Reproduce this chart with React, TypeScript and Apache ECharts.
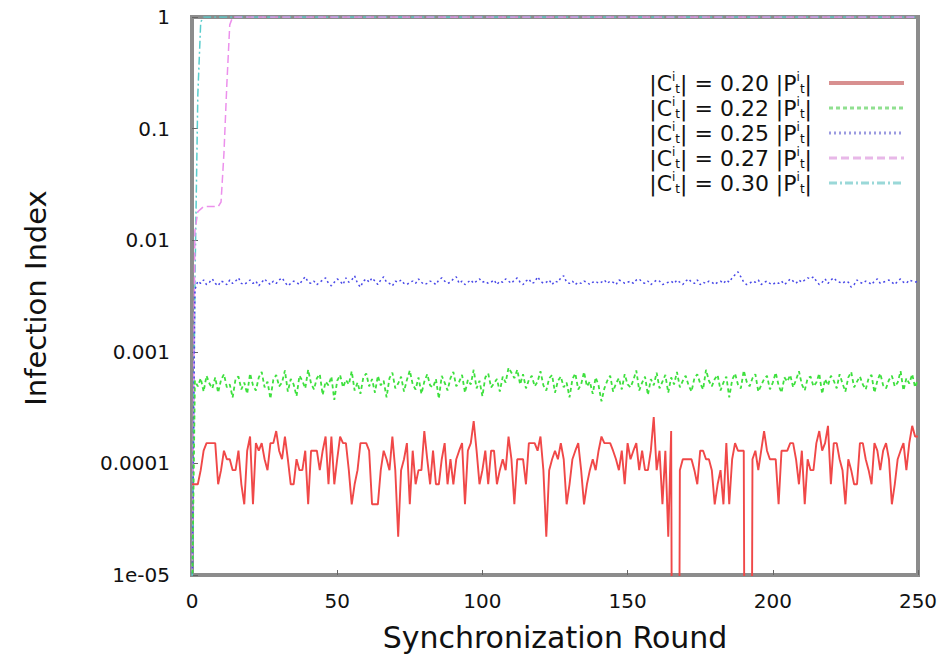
import React, { useEffect, useRef } from "react";
import * as echarts from "echarts";

// Synchronization rounds 0..250
const rounds: number[] = [];
for (let r = 0; r <= 250; r++) rounds.push(r);

const legendRatios = ["0.20", "0.22", "0.25", "0.27", "0.30"];
const yTickLabels = ["1e-05", "0.0001", "0.001", "0.01", "0.1", "1"];
const xTicks = [0, 50, 100, 150, 200, 250];

// |C| = 0.20 |P|, values in units of 1e-5 (0 = no infection)
const redE5 = [
  6.5, 6.5, 6.5, 8.7, 13, 15.2, 15.2, 15.2, 15.2, 6.5,
  8.7, 13, 10.9, 10.9, 8.7, 8.7, 13, 6.5, 4.3, 13,
  17.4, 4.3, 15.2, 13, 15.2, 10.9, 8.7, 15.2, 15.2, 19.5,
  13, 10.9, 17.4, 10.9, 6.5, 6.5, 10.9, 8.7, 8.7, 13,
  4.3, 13, 13, 13, 8.7, 13, 17.4, 6.5, 17.4, 6.5,
  10.9, 17.4, 15.2, 15.2, 8.7, 4.3, 6.5, 8.7, 15.2, 15.2,
  15.2, 13, 4.3, 4.3, 4.3, 8.7, 13, 10.9, 8.7, 17.4,
  8.7, 2.2, 8.7, 10.9, 15.2, 4.3, 13, 6.5, 8.7, 8.7,
  19.5, 10.9, 6.5, 13, 6.5, 6.5, 10.9, 15.2, 6.5, 10.9,
  6.5, 10.9, 13, 15.2, 4.3, 13, 15.2, 23.9, 13, 6.5,
  8.7, 13, 6.5, 13, 13, 6.5, 8.7, 10.9, 8.7, 17.4,
  10.9, 4.3, 10.9, 10.9, 10.9, 6.5, 15.2, 15.2, 15.2, 13,
  17.4, 8.7, 2.2, 8.7, 10.9, 13, 10.9, 15.2, 10.9, 4.3,
  6.5, 10.9, 13, 15.2, 8.7, 4.3, 6.5, 8.7, 10.9, 8.7,
  13, 17.4, 15.2, 15.2, 15.2, 13, 10.9, 8.7, 13, 6.5,
  15.2, 10.9, 13, 15.2, 8.7, 13, 8.7, 8.7, 13, 26,
  8.7, 13, 4.3, 13, 2.2, 19.5, 0, 0, 8.7, 10.9,
  10.9, 10.9, 10.9, 8.7, 6.5, 13, 13, 10.9, 10.9, 8.7,
  4.3, 6.5, 8.7, 4.3, 15.2, 4.3, 10.9, 15.2, 13, 13,
  13, 0, 0, 10.9, 13, 8.7, 13, 19.5, 13, 10.9,
  10.9, 10.9, 4.3, 13, 13, 13, 15.2, 15.2, 10.9, 6.5,
  13, 4.3, 10.9, 8.7, 8.7, 15.2, 19.5, 13, 15.2, 21.7,
  6.5, 15.2, 15.2, 10.9, 8.7, 4.3, 10.9, 8.7, 6.5, 6.5,
  15.2, 15.2, 10.9, 8.7, 6.5, 15.2, 13, 8.7, 13, 15.2,
  10.9, 4.3, 6.5, 10.9, 13, 15.2, 8.7, 15.2, 21.7, 17.4,
  17.4,
];

// |C| = 0.22 |P|, values in units of 1e-4
const greenE4 = [
  0.05,
  5.5, 4.9, 5.8, 4.4, 6.1, 5.2, 4.7, 5.9, 4.3, 5.6,
  6.3, 4.8, 5.1, 3.9, 5.7, 6.0, 4.6, 5.3, 4.2, 6.4,
  5.0, 4.5, 5.9, 6.6, 4.8, 5.4, 3.8, 5.6, 6.2, 4.9,
  5.3, 6.8, 4.4, 5.7, 5.1, 4.0, 6.1, 5.5, 4.7, 6.9,
  5.2, 4.6, 5.8, 6.3, 4.1, 5.4, 5.0, 6.0, 3.7, 5.5,
  6.2, 4.8, 5.6, 5.1, 6.7, 4.5, 5.3, 4.2, 5.9, 6.4,
  4.9, 5.7, 4.3, 6.1, 5.0, 5.5, 3.9, 5.8, 6.5, 4.7,
  5.2, 6.0, 4.4, 5.6, 6.8, 5.1, 4.6, 5.9, 4.2, 5.4,
  6.3, 5.0, 4.8, 5.7, 3.8, 6.1, 5.3, 4.5, 5.8, 6.6,
  4.9, 5.4, 6.2, 4.3, 5.6, 5.1, 6.9, 4.7, 5.5, 4.0,
  5.9, 6.4, 4.8, 5.2, 5.7, 4.4, 6.0, 5.3, 7.2, 6.5,
  5.8, 6.9, 5.1, 6.3, 4.7, 5.6, 6.1, 4.9, 5.4, 6.7,
  5.0, 4.5, 5.8, 6.2, 4.3, 5.5, 6.0, 4.8, 5.3, 3.9,
  5.7, 6.4, 4.6, 5.1, 6.6, 4.9, 5.4, 4.2, 5.9, 5.0,
  3.6, 4.7, 5.5, 6.1, 4.4, 5.2, 5.8, 4.6, 6.3, 5.1,
  4.8, 5.6, 6.8, 4.5, 5.3, 6.0, 4.1, 5.7, 5.0, 6.5,
  4.7, 5.4, 6.2, 4.3, 5.9, 5.1, 6.6, 4.8, 5.5, 6.1,
  5.0, 4.4, 5.8, 6.3, 5.2, 4.6, 6.9, 5.5, 4.9, 5.7,
  6.2, 4.5, 5.3, 6.0, 3.9, 5.6, 6.4, 5.1, 4.7, 6.8,
  5.4, 4.9, 5.8, 6.3, 4.4, 5.0, 5.7, 6.1, 4.6, 5.3,
  6.5, 5.0, 4.3, 5.9, 5.4, 6.2, 4.8, 5.6, 6.7, 5.1,
  4.5, 5.8, 6.0, 4.9, 5.3, 6.4, 4.2, 5.7, 5.0, 6.1,
  5.5, 4.7, 6.3, 5.2, 4.4, 5.9, 6.6, 4.8, 5.4, 6.0,
  5.1, 4.6, 5.8, 6.2, 4.3, 5.5, 6.4, 5.0, 4.7, 5.6,
  6.1, 4.9, 5.3, 6.7, 4.5, 5.8, 5.2, 6.3, 4.8, 5.7,
];

// |C| = 0.25 |P|, values in units of 1e-3
const blueE3 = [
  0.005,
  3.6, 4.3, 4.1, 4.4, 4.0, 4.2, 4.5, 4.1, 3.9, 4.3,
  4.2, 4.0, 4.4, 4.1, 4.3, 4.6, 4.1, 4.0, 4.2, 4.4,
  4.1, 4.3, 3.9, 4.2, 4.5, 4.2, 4.0, 4.3, 4.1, 4.4,
  4.6, 4.2, 3.9, 4.1, 4.3, 4.2, 4.0, 4.4, 4.7, 4.2,
  4.1, 4.3, 4.0, 4.2, 4.4, 4.6, 4.1, 3.9, 4.2, 4.5,
  4.3, 4.0, 4.6, 4.2, 4.4, 4.8, 4.1, 3.8, 4.3, 4.5,
  4.2, 4.6, 4.3, 4.0, 4.4, 4.7, 4.2, 4.1, 3.9, 4.3,
  4.2, 4.4, 4.1, 4.0, 4.2, 4.3, 4.1, 4.5, 4.2, 4.0,
  4.1, 4.3, 4.2, 4.0, 4.4, 4.6, 4.3, 4.1, 4.2, 4.5,
  4.7, 4.1, 4.3, 4.0, 4.2, 4.4, 4.1, 4.3, 4.5, 4.2,
  4.3, 4.1, 4.2, 4.4, 4.0, 4.3, 4.2, 4.5, 4.3, 4.1,
  4.4, 4.6, 4.2, 4.0, 4.3, 4.5, 4.1, 4.2, 4.7, 4.3,
  4.1, 4.2, 4.4, 4.0, 4.3, 4.2, 4.6, 4.8, 4.2, 4.1,
  4.3, 4.0, 4.2, 4.1, 4.3, 4.2, 4.0, 4.2, 4.3, 4.1,
  4.2, 4.4, 4.1, 4.3, 4.2, 4.0, 4.4, 4.3, 4.1, 4.2,
  4.3, 4.1, 4.4, 4.5, 4.2, 4.1, 4.3, 4.0, 4.2, 4.4,
  4.3, 4.0, 4.1, 4.2, 4.3, 4.1, 4.4, 4.2, 4.0, 4.3,
  4.5, 4.2, 4.1, 4.4, 4.0, 4.2, 4.1, 4.3, 4.2, 4.0,
  4.2, 4.3, 4.1, 4.4, 4.2, 4.6, 4.9, 5.2, 4.7, 4.2,
  4.0, 4.1, 4.3, 4.2, 4.4, 4.0, 4.2, 4.3, 4.1, 4.0,
  4.2, 4.1, 4.3, 4.0, 4.2, 4.5, 4.3, 4.1, 4.4, 4.2,
  4.4, 4.6, 4.5, 4.7, 4.3, 4.0, 4.2, 4.5, 4.1, 4.4,
  4.6, 4.3, 4.2, 4.1, 4.3, 4.2, 3.8, 4.0, 4.4, 4.2,
  4.1, 4.3, 4.2, 4.0, 4.3, 4.5, 4.1, 4.2, 4.3, 4.4,
  4.2, 4.0, 4.3, 4.5, 4.2, 4.1, 4.4, 4.3, 4.2, 4.3,
];

// |C| = 0.27 |P| (rounds 0..250)
const pink = [
  0.000005, 0.012, 0.018, 0.019, 0.02, 0.02, 0.02, 0.02, 0.02, 0.02,
  0.022, 0.06, 0.25, 0.85, 1, 1, 1, 1, 1, 1,
  1, 1, 1, 1, 1, 1, 1, 1, 1, 1, 1, 1, 1, 1, 1, 1, 1, 1, 1, 1,
  1, 1, 1, 1, 1, 1, 1, 1, 1, 1, 1, 1, 1, 1, 1, 1, 1, 1, 1, 1,
  1, 1, 1, 1, 1, 1, 1, 1, 1, 1, 1, 1, 1, 1, 1, 1, 1, 1, 1, 1,
  1, 1, 1, 1, 1, 1, 1, 1, 1, 1, 1, 1, 1, 1, 1, 1, 1, 1, 1, 1,
  1, 1, 1, 1, 1, 1, 1, 1, 1, 1, 1, 1, 1, 1, 1, 1, 1, 1, 1, 1,
  1, 1, 1, 1, 1, 1, 1, 1, 1, 1, 1, 1, 1, 1, 1, 1, 1, 1, 1, 1,
  1, 1, 1, 1, 1, 1, 1, 1, 1, 1, 1, 1, 1, 1, 1, 1, 1, 1, 1, 1,
  1, 1, 1, 1, 1, 1, 1, 1, 1, 1, 1, 1, 1, 1, 1, 1, 1, 1, 1, 1,
  1, 1, 1, 1, 1, 1, 1, 1, 1, 1, 1, 1, 1, 1, 1, 1, 1, 1, 1, 1,
  1, 1, 1, 1, 1, 1, 1, 1, 1, 1, 1, 1, 1, 1, 1, 1, 1, 1, 1, 1,
  1, 1, 1, 1, 1, 1, 1, 1, 1, 1, 1, 1, 1, 1, 1, 1, 1, 1, 1, 1,
  1, 1, 1, 1, 1, 1, 1, 1, 1, 1,
  1,
];

// |C| = 0.30 |P| (rounds 0..250)
const cyan = [
  0.000005, 0.004, 0.2, 0.9, 1, 1, 1, 1, 1, 1,
  1, 1, 1, 1, 1, 1, 1, 1, 1, 1,
  1, 1, 1, 1, 1, 1, 1, 1, 1, 1, 1, 1, 1, 1, 1, 1, 1, 1, 1, 1,
  1, 1, 1, 1, 1, 1, 1, 1, 1, 1, 1, 1, 1, 1, 1, 1, 1, 1, 1, 1,
  1, 1, 1, 1, 1, 1, 1, 1, 1, 1, 1, 1, 1, 1, 1, 1, 1, 1, 1, 1,
  1, 1, 1, 1, 1, 1, 1, 1, 1, 1, 1, 1, 1, 1, 1, 1, 1, 1, 1, 1,
  1, 1, 1, 1, 1, 1, 1, 1, 1, 1, 1, 1, 1, 1, 1, 1, 1, 1, 1, 1,
  1, 1, 1, 1, 1, 1, 1, 1, 1, 1, 1, 1, 1, 1, 1, 1, 1, 1, 1, 1,
  1, 1, 1, 1, 1, 1, 1, 1, 1, 1, 1, 1, 1, 1, 1, 1, 1, 1, 1, 1,
  1, 1, 1, 1, 1, 1, 1, 1, 1, 1, 1, 1, 1, 1, 1, 1, 1, 1, 1, 1,
  1, 1, 1, 1, 1, 1, 1, 1, 1, 1, 1, 1, 1, 1, 1, 1, 1, 1, 1, 1,
  1, 1, 1, 1, 1, 1, 1, 1, 1, 1, 1, 1, 1, 1, 1, 1, 1, 1, 1, 1,
  1, 1, 1, 1, 1, 1, 1, 1, 1, 1, 1, 1, 1, 1, 1, 1, 1, 1, 1, 1,
  1, 1, 1, 1, 1, 1, 1, 1, 1, 1,
  1,
];

const FONT = "DejaVu Sans";

function toPairs(vals: number[], scale: number) {
  // zero cannot be drawn on a log axis: push it far below the visible range
  return vals.map((v, i) => [rounds[i], v === 0 ? 1e-12 : v * scale]);
}

export default function App() {
  const ref = useRef<HTMLDivElement>(null);
  useEffect(() => {
    if (!ref.current) return;
    const chart = echarts.init(ref.current, null, { renderer: "svg" });
    const seriesDefs = [
      { data: toPairs(redE5, 1e-5), color: "#f04848", type: "solid", width: 1.9, legendColor: "#d89090", legendWidth: 4 },
      { data: toPairs(greenE4, 1e-4), color: "#3ee03e", type: [4, 3], width: 1.8, legendColor: "#90e090", legendWidth: 3 },
      { data: toPairs(blueE3, 1e-3), color: "#4848e8", type: [2, 3], width: 1.5, legendColor: "#9a9ae0", legendWidth: 3 },
      { data: toPairs(pink, 1), color: "#ec90ec", type: [8, 4], width: 1.5, legendColor: "#e8b8e8", legendWidth: 3 },
      { data: toPairs(cyan, 1), color: "#58cccc", type: [8, 3, 2, 3], width: 1.5, legendColor: "#9ad8d8", legendWidth: 3 },
    ];
    const option: any = {
      animation: false,
      backgroundColor: "#ffffff",
      grid: {
        left: 192,
        right: 33,
        top: 17,
        bottom: 81,
        show: true,
        borderColor: "#8c8c8c",
        borderWidth: 4,
        backgroundColor: "transparent",
      },
      xAxis: {
        type: "value",
        min: 0,
        max: 250,
        interval: 50,
        axisLine: { show: false },
        axisTick: { show: true, inside: true, length: 5, lineStyle: { color: "#666" } },
        splitLine: { show: false },
        axisLabel: {
          margin: 16,
          fontFamily: FONT,
          fontSize: 20,
          color: "#111",
          formatter: (v: number) => (xTicks.indexOf(v) >= 0 ? String(v) : ""),
        },
      },
      yAxis: {
        type: "log",
        logBase: 10,
        min: 1e-5,
        max: 1,
        axisLine: { show: false },
        axisTick: { show: true, inside: true, length: 6, lineStyle: { color: "#666" } },
        splitLine: { show: false },
        axisLabel: {
          margin: 22,
          fontFamily: FONT,
          fontSize: 20,
          color: "#111",
          formatter: (v: number) => {
            const idx = Math.round(Math.log10(v)) + 5;
            return yTickLabels[idx] ?? "";
          },
        },
      },
      legend: {
        orient: "vertical",
        right: 40,
        top: 66,
        align: "right",
        itemWidth: 75,
        itemHeight: 14,
        itemGap: 1,
        formatter: (name: string) => `|C{sup|i}{sub|t}| = ${name} |P{sup|i}{sub|t}|`,
        textStyle: {
          fontFamily: FONT,
          fontSize: 22,
          color: "#111",
          lineHeight: 24,
          padding: [0, 12, 0, 0],
          rich: {
            sup: { fontFamily: FONT, fontSize: 12, verticalAlign: "top", color: "#111" },
            sub: { fontFamily: FONT, fontSize: 12, verticalAlign: "bottom", color: "#111" },
          },
        },
        data: legendRatios.map((n, i) => ({
          name: n,
          itemStyle: { opacity: 0 },
          lineStyle: {
            color: seriesDefs[i].legendColor,
            width: seriesDefs[i].legendWidth,
            type: seriesDefs[i].type,
            opacity: 1,
          },
        })),
      },
      series: seriesDefs.map((d, i) => ({
        name: legendRatios[i],
        type: "line",
        data: d.data,
        showSymbol: false,
        symbol: "none",
        clip: true,
        color: d.color,
        lineStyle: { color: d.color, width: d.width, type: d.type },
        z: 2 + (4 - i),
      })),
      graphic: [
        {
          type: "text",
          x: 36,
          y: 298,
          rotation: Math.PI / 2,
          style: {
            text: "Infection Index",
            font: `29px "${FONT}"`,
            fill: "#111",
            textAlign: "center",
            textVerticalAlign: "middle",
          },
        },
        {
          type: "text",
          x: 555,
          y: 637,
          style: {
            text: "Synchronization Round",
            font: `30px "${FONT}"`,
            fill: "#111",
            textAlign: "center",
            textVerticalAlign: "middle",
          },
        },
      ],
    };
    chart.setOption(option);
    return () => chart.dispose();
  }, []);
  return (
    <div
      ref={ref}
      style={{ position: "fixed", left: 0, top: 0, width: 951, height: 656, background: "#fff" }}
    />
  );
}
